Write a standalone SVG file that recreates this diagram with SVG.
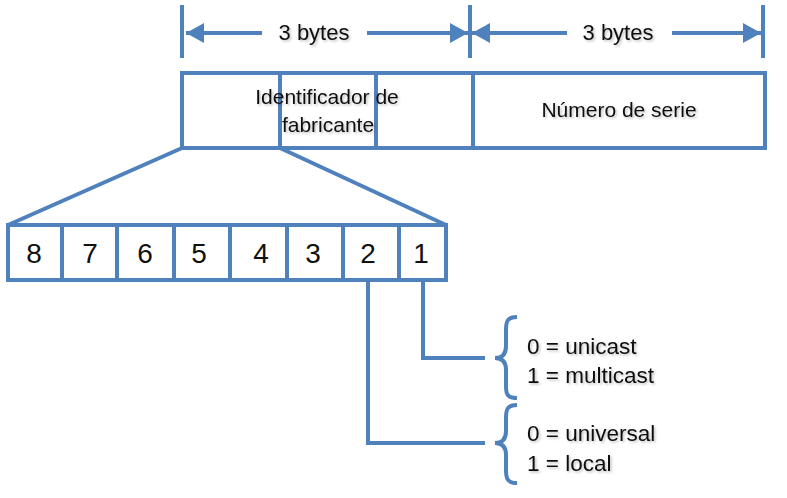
<svg xmlns="http://www.w3.org/2000/svg" width="787" height="498" viewBox="0 0 787 498">
<defs>
<filter id="sh" x="-10%" y="-20%" width="130%" height="160%">
<feDropShadow dx="1.5" dy="1.5" stdDeviation="1" flood-color="#000" flood-opacity="0.25"/>
</filter>
<marker id="ah" viewBox="0 0 18 20" refX="18" refY="10" markerWidth="18" markerHeight="20" markerUnits="userSpaceOnUse" orient="auto-start-reverse">
<path d="M0,0 L18,10 L0,20 Z" fill="#4F81BD"/>
</marker>
</defs>
<style>
.ln{fill:none;stroke:#4F81BD;stroke-width:4;stroke-linejoin:miter}
.bx{fill:#fff;stroke:#4F81BD;stroke-width:4}
.t{font-family:"Liberation Sans",Arial,sans-serif;font-size:21px;fill:#111;filter:url(#sh)}
.b{font-size:22px}
.r{font-size:22.5px}
.c{text-anchor:middle}
.d{font-family:"Liberation Sans",Arial,sans-serif;font-size:28px;fill:#111;text-anchor:middle}
</style>
<rect width="787" height="498" fill="#fff"/>

<g id="dimensions">
<path class="ln" d="M182,5 V58 M470,5 V58 M763,5 V58"/>
<path class="ln" d="M262,33 H186" marker-end="url(#ah)"/>
<path class="ln" d="M367,33 H468" marker-end="url(#ah)"/>
<path class="ln" d="M567,33 H472" marker-end="url(#ah)"/>
<path class="ln" d="M672,33 H761" marker-end="url(#ah)"/>
<text class="t b c" x="314" y="40">3 bytes</text>
<text class="t b c" x="618" y="40">3 bytes</text>
</g>

<g id="address">
<rect class="bx" x="182" y="73" width="583" height="75"/>
<path class="ln" d="M280,73 V148 M376,73 V148 M473,73 V148"/>
<text class="t c" x="327" y="104">Identificador de</text>
<text class="t c" x="328" y="132">fabricante</text>
<text class="t c" x="619" y="117">Número de serie</text>
</g>

<g id="connectors">
<path class="ln" d="M182,148 L8,225 M280,148 L446,225"/>
<path class="ln" d="M423,280 V358 H485"/>
<path class="ln" d="M368,280 V443 H485"/>
</g>

<g id="bits">
<rect class="bx" x="8" y="225" width="438" height="55"/>
<path class="ln" d="M62,225 V280 M117,225 V280 M174,225 V280 M230,225 V280 M287,225 V280 M343,225 V280 M399,225 V280"/>
<text class="d" x="34" y="263">8</text>
<text class="d" x="90" y="263">7</text>
<text class="d" x="145" y="263">6</text>
<text class="d" x="199" y="263">5</text>
<text class="d" x="261" y="263">4</text>
<text class="d" x="313" y="263">3</text>
<text class="d" x="368" y="263">2</text>
<text class="d" x="421" y="263">1</text>
</g>

<g id="cast">
<path class="ln" d="M517,317 C507,317 506,322 506,330 L506,346 C506,354 502,358 495,358 C502,358 506,362 506,370 L506,386 C506,394 507,398 517,398"/>
<text class="t r" x="527" y="354">0 = unicast</text>
<text class="t r" x="527" y="383">1 = multicast</text>
</g>

<g id="scope">
<path class="ln" d="M517,405 C507,405 506,410 506,418 L506,431 C506,439 502,443 495,443 C502,443 506,447 506,455 L506,470 C506,478 507,483 517,483"/>
<text class="t r" x="527" y="441">0 = universal</text>
<text class="t r" x="527" y="471">1 = local</text>
</g>
</svg>
